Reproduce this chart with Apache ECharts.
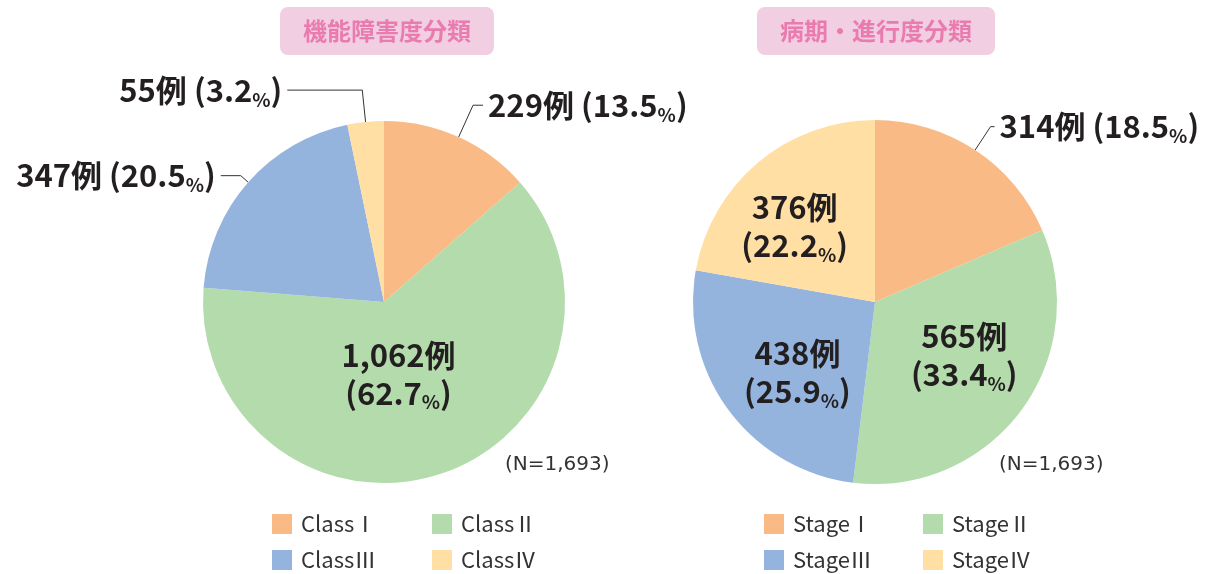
<!DOCTYPE html>
<html><head><meta charset="utf-8">
<script src="https://cdn.jsdelivr.net/npm/echarts@6/dist/echarts.min.js"></script>
<style>html,body{margin:0;padding:0;background:#fff}#c{width:1208px;height:574px}</style>
</head><body><div id="c"></div>
<script>
const leftTitle = '機能障害度分類';
const rightTitle = '病期・進行度分類';
const classNames = ['ClassⅠ', 'ClassⅡ', 'ClassⅢ', 'ClassⅣ'];
const classCounts = [229, 1062, 347, 55];
const classPercents = [13.5, 62.7, 20.5, 3.2];
const stageNames = ['StageⅠ', 'StageⅡ', 'StageⅢ', 'StageⅣ'];
const stageCounts = [314, 565, 438, 376];
const stagePercents = [18.5, 33.4, 25.9, 22.2];
const totalNote = '(N=1,693)';

const colors = ['#F9BA85', '#B3DBAC', '#94B4DE', '#FFDFA3'];
const FONT = '"Noto Sans CJK JP", "Noto Sans", sans-serif';
const TXT = '#231F20';

// label styling per slice (style only, not data)
const classLabelCfg = [
  {inside: false, len: 35, len2: 10},
  {inside: true, dx: -15, dy: -17},
  {inside: false, len: 10, len2: 20},
  {inside: false, len: 32, len2: 75}
];
const stageLabelCfg = [
  {inside: false, len: 28, len2: 4},
  {inside: true, dx: 14, dy: -3},
  {inside: true, dx: -2, dy: 14},
  {inside: true, dx: -20, dy: -4}
];

const rich = {
  n: {fontSize: 31, fontWeight: 'bold', color: TXT, fontFamily: FONT, lineHeight: 38},
  s: {fontSize: 19, fontWeight: 'bold', color: TXT, fontFamily: FONT, lineHeight: 28, verticalAlign: 'bottom'}
};

function fmtCount(v) { return v.toLocaleString('en-US'); }

function buildData(names, counts, pcts, cfg) {
  return names.map((name, i) => {
    const c = cfg[i];
    const head = '{n|' + fmtCount(counts[i]) + '例}';
    const tail = '{n|(' + pcts[i].toFixed(1) + '}{s|%}{n|)}';
    const text = c.inside ? head + '\n' + tail : head + '{n| }' + tail;
    return {
      name: name,
      value: counts[i],
      itemStyle: {color: colors[i]},
      label: {
        show: true,
        position: c.inside ? 'inside' : 'outside',
        formatter: text,
        rich: rich,
        distanceToLabelLine: 5,
        bleedMargin: 0
      },
      labelLine: c.inside ? {show: false} : {
        show: true, length: c.len, length2: c.len2,
        lineStyle: {color: '#333', width: 1}
      }
    };
  });
}

function layoutFn(cfg) {
  return function (params) {
    const c = cfg[params.dataIndex];
    if (c && c.inside) return {dx: c.dx || 0, dy: c.dy || 0};
    return {};
  };
}

const chart = echarts.init(document.getElementById('c'), null, {renderer: 'canvas'});

const legendBase = {
  orient: 'vertical', padding: 0, itemWidth: 20, itemHeight: 20, itemGap: 14,
  icon: 'rect', selectedMode: false,
  textStyle: {fontSize: 22, color: '#333', fontFamily: FONT, lineHeight: 22, padding: [0, 0, 0, 4]}
};

const titleBox = {
  backgroundColor: '#F2CEE3', borderRadius: 8, padding: [12, 23],
  textStyle: {fontSize: 24, fontWeight: 'bold', color: '#E97BAE', fontFamily: FONT, lineHeight: 24}
};

const noteStyle = {fontSize: 20, fontWeight: 'normal', color: '#333', fontFamily: '"DejaVu Sans", sans-serif'};

chart.setOption({
  animation: false,
  textStyle: {fontFamily: FONT},
  title: [
    Object.assign({text: leftTitle, left: 280, top: 7}, titleBox),
    Object.assign({text: rightTitle, left: 757, top: 7}, titleBox),
    {text: totalNote, left: 505, top: 455, padding: 0, textStyle: noteStyle},
    {text: totalNote, left: 999, top: 455, padding: 0, textStyle: noteStyle}
  ],
  legend: [
    Object.assign({data: [classNames[0], classNames[2]], left: 272, top: 513}, legendBase),
    Object.assign({data: [classNames[1], classNames[3]], left: 432, top: 513}, legendBase),
    Object.assign({data: [stageNames[0], stageNames[2]], left: 764, top: 513}, legendBase),
    Object.assign({data: [stageNames[1], stageNames[3]], left: 923, top: 513}, legendBase)
  ],
  series: [
    {
      type: 'pie', center: [384, 302], radius: 181, startAngle: 90, clockwise: true,
      avoidLabelOverlap: false, silent: true,
      data: buildData(classNames, classCounts, classPercents, classLabelCfg),
      labelLayout: layoutFn(classLabelCfg)
    },
    {
      type: 'pie', center: [875, 302], radius: 182, startAngle: 90, clockwise: true,
      avoidLabelOverlap: false, silent: true,
      data: buildData(stageNames, stageCounts, stagePercents, stageLabelCfg),
      labelLayout: layoutFn(stageLabelCfg)
    }
  ]
});
</script>
</body></html>
